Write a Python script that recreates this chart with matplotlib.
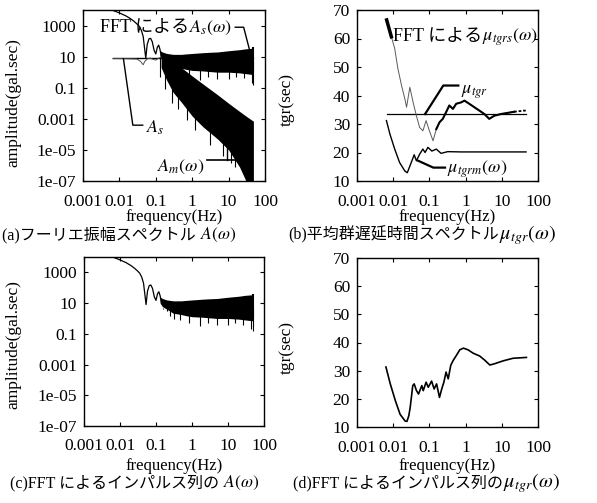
import numpy as np
import matplotlib
matplotlib.use('Agg')
import matplotlib.pyplot as plt
from matplotlib.ticker import FixedLocator, FixedFormatter, NullLocator

# --- dati ---
# spettro FFT (bassa frequenza, curva continua)
fft_f = [0.0066, 0.01, 0.015, 0.02, 0.025, 0.03, 0.035, 0.04, 0.045, 0.05,
         0.053, 0.058, 0.065, 0.072, 0.08, 0.09, 0.1, 0.11, 0.12, 0.13, 0.14]
fft_a = [9500, 6500, 4200, 2800, 1900, 1300, 900, 500, 200, 25,
         8, 60, 140, 150, 90, 25, 15, 40, 55, 30, 12]

# fascia rumorosa FFT (inviluppo)
band_f = [0.13, 0.15, 0.2, 0.3, 0.5, 0.7, 1, 2, 3, 5, 10, 20, 30, 48]
band_hi = [25, 20, 16, 14, 14, 15, 16, 18, 19, 20, 24, 28, 32, 35]
band_lo = [10, 6, 4, 2.2, 1.8, 1.5, 1.3, 1.2, 1.1, 1.0, 1.0, 0.9, 0.8, 0.7]
spike_f = [0.16, 0.2, 0.25, 0.31, 0.45, 0.8, 1.65, 2.8, 4.8, 10, 16, 26, 44, 48]
spike_lo = [4, 3, 1.5, 0.9, 0.8, 0.5, 0.3, 0.5, 0.35, 0.35, 0.5, 0.4, 0.2, 0.15]

# A_s costante e A_m(omega)
as_f = [0.0066, 48]
as_a = [8.5, 8.5]
am_lf_f = [0.0066, 0.01, 0.02, 0.03, 0.038, 0.045, 0.05, 0.06, 0.07, 0.08, 0.1, 0.12, 0.14]
am_lf_a = [7.5, 7.5, 7.2, 7, 5, 3, 5, 7.5, 8, 7, 6, 8, 9]
am_f = [0.14, 0.2, 0.3, 0.5, 1, 2, 5, 10, 20, 30, 48]
am_hi = [10, 9, 5, 2, 0.57, 0.17, 0.035, 0.01, 0.003, 0.0015, 0.0007]
am_lo = [2, 0.3, 0.05, 0.012, 1.5e-3, 3e-4, 5e-5, 1e-5, 8e-7, 1e-7, 1e-7]
am_sp_f = [0.13, 0.18, 0.27, 0.4, 0.7, 1.2, 3, 7, 12, 15]
am_sp_lo = [0.5, 0.08, 0.01, 0.004, 8e-4, 2e-4, 2e-5, 4e-6, 1.5e-6, 8e-7]

# tempo di ritardo di gruppo medio (b)
mus_f = [0.0066, 0.0089, 0.011, 0.0135, 0.017, 0.021, 0.0234, 0.0288, 0.0355, 0.0437,
         0.0537, 0.066, 0.081, 0.1, 0.126, 0.155, 0.19, 0.234, 0.288, 0.355,
         0.447, 0.55, 0.76, 0.93, 1.26, 1.74, 2.4, 3.3, 4.5, 6.2,
         9.5, 14.5, 21.9, 41.7, 46]
mus_t = [66.5, 60.6, 56.5, 49.4, 43.5, 38.8, 35.9, 42.9, 37.6, 32.9,
         28.8, 27.6, 31.2, 27.6, 24.1, 28.2, 30.6, 31.8, 34.1, 36.5,
         35.3, 37.1, 37.6, 38.2, 37.1, 35.9, 34.7, 33.5, 31.8, 32.9,
         33.5, 33.9, 34.3, 34.7, 34.7]
mutgr_f = [0.0066, 46]
mutgr_t = [33.5, 33.5]
mum_f = [0.0065, 0.0081, 0.011, 0.015, 0.021, 0.0245, 0.029, 0.0355, 0.038, 0.0437,
         0.0537, 0.066, 0.076, 0.091, 0.117, 0.155, 0.21, 0.32, 0.76, 4.2, 46.8]
mum_t = [31.2, 26.5, 21.2, 16.5, 13.5, 12.9, 15.3, 18.2, 19.2, 17.1,
         19.4, 21.2, 20.0, 21.8, 20.5, 21.2, 19.7, 20.3, 20.2, 20.2, 20.2]

# (d) FFT della sequenza di impulsi
mud_f = [0.0063, 0.0083, 0.0115, 0.0155, 0.0214, 0.024, 0.027, 0.0295, 0.0347, 0.038,
         0.0437, 0.05, 0.0617, 0.0676, 0.081, 0.093, 0.115, 0.135, 0.158, 0.19,
         0.219, 0.251, 0.288, 0.331, 0.389, 0.457, 0.562, 0.69, 0.87, 1.17,
         1.62, 2.45, 3.39, 4.68, 6.46, 11, 20.4, 47.9]
mud_t = [31.3, 25.3, 19.3, 14.5, 12.1, 12.0, 14.0, 17.0, 24.7, 25.3,
         23.0, 21.7, 24.7, 22.9, 25.9, 24.1, 26.3, 23.5, 25.3, 20.5,
         23.5, 25.9, 29.5, 27.1, 31.9, 33.7, 35.5, 37.4, 38.0, 37.4,
         36.2, 35.2, 33.7, 32.0, 32.5, 33.5, 34.4, 34.7]

xticks = [0.001, 0.01, 0.1, 1, 10, 100]
xtick_labels = ['0.001', '0.01', '0.1', '1', '10', '100']
amp_ticks = [1e3, 10, 0.1, 1e-3, 1e-5, 1e-7]
amp_labels = ['1000', '10', '0.1', '0.001', '1e-05', '1e-07']
tgr_ticks = [10, 20, 30, 40, 50, 60, 70]

# --- impostazioni ---
plt.rcParams['font.family'] = ['Liberation Serif', 'Noto Sans CJK JP']
plt.rcParams['mathtext.fontset'] = 'stix'

W, H = 597, 503


def fr(x, y):
    return (x / W, 1 - y / H)


def box(l, t, r, b):
    return [l / W, 1 - b / H, (r - l) / W, (b - t) / H]


def style(ax, logy):
    ax.set_xscale('log')
    ax.set_xlim(1e-3, 100)
    ax.xaxis.set_major_locator(FixedLocator(xticks))
    ax.xaxis.set_major_formatter(FixedFormatter(xtick_labels))
    ax.xaxis.set_minor_locator(NullLocator())
    if logy:
        ax.set_yscale('log')
        ax.set_ylim(1e-7, 1e4)
        ax.yaxis.set_major_locator(FixedLocator(amp_ticks))
        ax.yaxis.set_major_formatter(FixedFormatter(amp_labels))
        ax.yaxis.set_minor_locator(NullLocator())
    else:
        ax.set_ylim(10, 70)
        ax.set_yticks(tgr_ticks)
    ax.tick_params(direction='in', length=3, width=0.8, top=True, right=True, labelsize=12.5)
    ax.tick_params(axis='x', pad=9)
    ax.tick_params(axis='y', pad=5)
    for sp in ax.spines.values():
        sp.set_linewidth(1.0)


def two_part(ax, xy, coords, plain, math, size, msize=None):
    t = ax.annotate(plain, xy=xy, xycoords=coords, ha='left', va='center',
                    fontsize=size, annotation_clip=False)
    ax.annotate(math, xy=(1, 0.5), xycoords=t, ha='left', va='center',
                fontsize=msize or size, annotation_clip=False)
    return t


fig = plt.figure(figsize=(5.97, 5.03), dpi=100)
ax_a = fig.add_axes(box(83, 10, 265, 181))
ax_b = fig.add_axes(box(357, 10, 538, 181))
ax_c = fig.add_axes(box(84, 257, 264, 426))
ax_d = fig.add_axes(box(357, 258, 538, 427))

# --- (a) ---
ax = ax_a
ax.plot(as_f, as_a, color='k', lw=1.0)
ax.plot(as_f[0:1] * 2, [as_a[0]] * 2, color='k', lw=2.0)
ax.plot(am_lf_f, am_lf_a, color='0.3', lw=0.7)
ax.fill_between(am_f, am_lo, am_hi, color='k', lw=0)
ax.vlines(am_sp_f, am_sp_lo, am_hi[:len(am_sp_f)], color='k', lw=0.8)
ax.plot(fft_f, fft_a, color='k', lw=0.9)
ax.fill_between(band_f, band_lo, band_hi, color='k', lw=0)
ax.vlines(spike_f, spike_lo, 5, color='k', lw=0.8)
ax.vlines(48, 1, 40, color='k', lw=1.5)
style(ax, True)
# annotazioni
two_part(ax, (0.0029, 740), 'data', 'FFT による', r'$A_s(\omega)$', 13)
ax.plot([15.2, 25.9, 39], [780, 780, 19.5], color='k', lw=1.0)
ax.plot([0.0129, 0.0234, 0.0437], [7.4, 3.9e-4, 3.9e-4], color='k', lw=1.0)
ax.text(0.054, 2.5e-4, r'$A_s$', fontsize=13, va='center', ha='left')
ax.plot([2.57, 15], [2.2e-6, 2.2e-6], color='k', lw=1.2)
ax.plot([9.3, 9.3], [2e-5, 2.2e-6], color='k', lw=1.0)
ax.text(2.1, 8e-7, r'$A_m(\omega)$', fontsize=13, va='center', ha='right')

# --- (b) ---
ax = ax_b
ax.plot(mutgr_f, mutgr_t, color='k', lw=0.9)
ax.plot(mum_f, mum_t, color='k', lw=1.0)
ax.plot(mus_f[:33], mus_t[:33], color='0.35', lw=0.7)
ax.plot(mus_f[15:33], mus_t[15:33], color='k', lw=1.5)
ax.plot(mus_f[32:], mus_t[32:], color='k', lw=1.3, ls=(0, (1.5, 1)))
ax.plot(mus_f[:2], mus_t[:2], color='k', lw=2.5)
style(ax, False)
two_part(ax, (0.0099, 60.6), 'data', 'FFT による', r'$\mu_{tgrs}(\omega)$', 13)
ax.plot([0.076, 0.242, 0.63], [33.5, 43.5, 43.5], color='k', lw=1.6)
ax.text(0.77, 41, r'$\mu_{tgr}$', fontsize=13, va='center', ha='left')
ax.plot([0.049, 0.128, 0.27], [17.1, 14.7, 14.7], color='k', lw=1.6)
ax.text(0.3, 14.0, r'$\mu_{tgrm}(\omega)$', fontsize=13, va='center', ha='left')

# --- (c) ---
ax = ax_c
ax.plot(fft_f, fft_a, color='k', lw=0.9)
ax.fill_between(band_f, band_lo, band_hi, color='k', lw=0)
ax.vlines(spike_f, spike_lo, 5, color='k', lw=0.8)
ax.vlines(48, 1, 40, color='k', lw=1.5)
style(ax, True)

# --- (d) ---
ax = ax_d
ax.plot(mud_f, mud_t, color='k', lw=1.2)
style(ax, False)

# --- etichette degli assi e didascalie ---
for l, r, y in [(83, 265, 217), (357, 538, 217), (84, 264, 466), (357, 538, 466)]:
    fig.text(*fr((l + r) / 2, y), 'frequency(Hz)', ha='center', va='center', fontsize=12)
fig.text(*fr(13, 103), 'amplitude(gal.sec)', rotation=90, ha='center', va='center', fontsize=12.5)
fig.text(*fr(13, 345), 'amplitude(gal.sec)', rotation=90, ha='center', va='center', fontsize=12.5)
fig.text(*fr(287, 100), 'tgr(sec)', rotation=90, ha='center', va='center', fontsize=12.5)
fig.text(*fr(287, 347), 'tgr(sec)', rotation=90, ha='center', va='center', fontsize=12.5)

two_part(ax_a, fr(2, 235), 'figure fraction', '(a)フーリエ振幅スペクトル ', r'$A(\omega)$', 11.5, 12.5)
two_part(ax_b, fr(288, 235), 'figure fraction', '(b)平均群遅延時間スペクトル', r'$\mu_{tgr}(\omega)$', 11.5, 14.5)
two_part(ax_c, fr(10, 483), 'figure fraction', '(c)FFT によるインパルス列の ', r'$A(\omega)$', 11.5, 12.5)
two_part(ax_d, fr(293, 483), 'figure fraction', '(d)FFT によるインパルス列の', r'$\mu_{tgr}(\omega)$', 11.5, 14.5)

fig.savefig('out.png', dpi=100)
